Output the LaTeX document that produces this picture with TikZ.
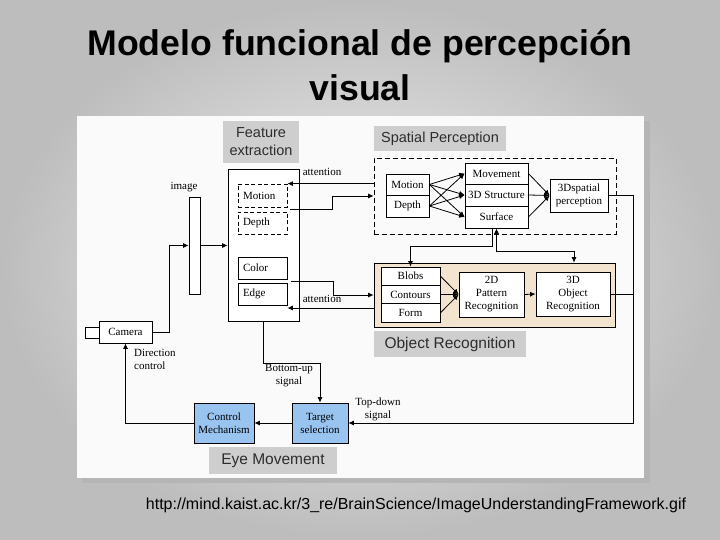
\documentclass[tikz,border=0pt]{standalone}
\usepackage{fontspec}
\setmainfont{Liberation Serif}
\newfontfamily\arialf{Liberation Sans}
\usetikzlibrary{arrows.meta,calc}
\definecolor{bluefill}{RGB}{153,196,240}
\definecolor{tanfill}{RGB}{242,228,206}
\definecolor{lblfill}{RGB}{206,206,206}
\definecolor{lbltext}{RGB}{45,45,45}
\newcommand\bx[7]{\node[#6, minimum width={#4-#2}, minimum height={#5-#3}] (#1) at ({(#2+#4)/2},{(#3+#5)/2}) {#7};}
\begin{document}
\begin{tikzpicture}[x=1pt,y=-1pt,
  box/.style={draw, line width=0.8pt, fill=white, inner sep=0pt, align=center, font=\fontsize{11}{13}\selectfont},
  lbox/.style={box, align=left, inner xsep=5pt, text width={#1}},
  dbox/.style={lbox=#1, dash pattern=on 4pt off 2.5pt},
  bluebox/.style={box, fill=bluefill},
  lbl/.style={fill=lblfill, inner sep=0pt, align=center, text=lbltext, font=\arialf\fontsize{14.5}{18}\selectfont},
  lblb/.style={lbl, font=\arialf\fontsize{15.5}{18}\selectfont},
  txt/.style={inner sep=0pt, align=center, font=\fontsize{11}{13}\selectfont},
  arr/.style={-{Latex[length=5.5pt,width=5pt]}, line width=0.8pt},
  ln/.style={line width=0.8pt}]
\useasboundingbox (0,0) rectangle (720,540);
\shade[inner color=gray!10, outer color=gray!52] (0,0) rectangle (720,540);
% titles
\node[inner sep=0pt] (title1) at (360,46) {\resizebox{545pt}{!}{\arialf\bfseries Modelo funcional de percepción}};
\node[inner sep=0pt, font=\arialf\bfseries\fontsize{35.7}{40}\selectfont] (title2) at (360,88) {visual};
\node[inner sep=0pt] (url) at (416,505) {\resizebox{540pt}{!}{\arialf http://mind.kaist.ac.kr/3\_re/BrainScience/ImageUnderstandingFramework.gif}};
% panel
\fill[gray!58] (82,121) rectangle (650,483);
\fill[white!98!black] (77,116) rectangle (644,478);
% section labels
\bx{lblfe}{223}{121}{299}{163}{lbl}{Feature\\extraction}
\bx{lblsp}{374}{126}{506}{151}{lbl}{Spatial Perception}
\bx{lblor}{374}{331}{526}{357}{lblb}{Object Recognition}
\bx{lblem}{209}{447}{337}{474}{lblb}{Eye Movement}
% feature extraction
\bx{fe}{228}{169}{299}{321}{box}{}
\bx{motf}{238}{184}{287}{207}{dbox=39pt}{Motion}
\bx{depf}{238}{212}{287}{234}{dbox=39pt}{Depth}
\bx{colf}{238}{257}{287}{279}{lbox=39pt}{Color}
\bx{edgf}{238}{283}{287}{305}{lbox=39pt}{Edge}
\bx{img}{189}{197}{200}{294}{box}{}
\node[txt, anchor=base] (imgl) at (184,190) {image};
% camera
\bx{cam}{99}{321}{152}{343}{box}{Camera}
\bx{lens}{85}{327}{99}{338}{box}{}
\node[txt, align=left, anchor=west] (dirl) at (134,359.5) {Direction\\control};
% eye movement
\bx{ctrl}{194}{403}{254}{443}{bluebox}{Control\\Mechanism}
\bx{tgt}{292}{403}{348}{443}{bluebox}{Target\\selection}
\node[txt] (bul) at (289,376) {Bottom-up\\signal};
\node[txt] (tdl) at (378,409) {Top-down\\signal};
\node[txt, anchor=base] (att1) at (322,176) {attention};
\node[txt, anchor=base] (att2) at (322,302) {attention};
% spatial perception
\bx{spbox}{374}{158}{616}{234}{box, fill=none, dash pattern=on 5pt off 3pt}{}
\bx{motS}{386}{174}{429}{195}{box}{Motion}
\bx{depS}{386}{195}{429}{217}{box}{Depth}
\bx{mov}{465}{163}{528}{184}{box}{Movement}
\bx{s3d}{465}{184}{528}{206}{box}{3D Structure}
\bx{surf}{465}{206}{528}{228}{box}{Surface}
\bx{sp3}{550}{179}{608}{212}{box}{3Dspatial\\perception}
% object recognition
\bx{tan}{374}{263}{615}{327}{box, fill=tanfill}{}
\bx{blobs}{381}{267}{440}{285.3}{box}{Blobs}
\bx{contours}{381}{285.3}{440}{303.6}{box}{Contours}
\bx{form}{381}{303.6}{440}{322}{box}{Form}
\bx{p2d}{459}{272}{524}{317}{box}{2D\\Pattern\\Recognition}
\bx{o3d}{536}{272}{610}{316}{box}{3D\\Object\\Recognition}
% connectors
\draw[arr] (cam.east) -| ([xshift=-19pt]img.west) -- (img.west);
\draw[arr] (img.east) -- (img.east -| fe.west);
\draw[arr] (spbox.west |- motf.north) -- (motf.north east);
\coordinate (md) at (290,209.5);
\draw[arr] (md) -- (332,209.5) -- (332,196) -- (spbox.west);
\coordinate (ce) at (291,281);
\draw[arr] (ce) -- (333,281) -- (333,295) -- (tan.west);
\draw[arr] ([yshift=-13pt]tan.west) -- ([yshift=-13pt]tan.west -| edgf.east);
\draw[arr] (fe.south) -- ++(0,42) -| (tgt.north);
\coordinate (rc) at (633,423);
\draw[arr] (sp3.east) -| (rc) -- (tgt.east);
\draw[ln] (o3d.east) -- (o3d.east -| rc);
\draw[arr] (tgt.west) -- (ctrl.east);
\draw[arr] (ctrl.west) -| (cam.south);
\foreach \s in {motS,depS}{\foreach \t in {mov,s3d,surf}{\draw[arr] (\s.east) -- (\t.west);}}
\foreach \t in {mov,s3d,surf}{\draw[arr] (\t.east) -- (sp3.west);}
\foreach \t in {blobs,contours,form}{\draw[arr] (\t.east) -- (p2d.west);}
\draw[arr] (p2d.east) -- (o3d.west);
\draw[arr] ([xshift=-4.5pt]surf.south) -- ++(0,18) -| (blobs.north);
\coordinate (fb) at (574,251);
\draw[arr] (fb) -| (surf.south);
\draw[arr] (fb) -- (fb |- tan.north);
\end{tikzpicture}
\end{document}
